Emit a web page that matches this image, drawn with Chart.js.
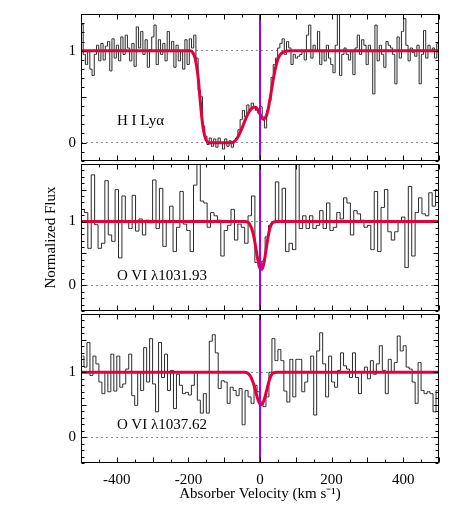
<!DOCTYPE html>
<html>
<head>
<meta charset="utf-8">
<script src="https://cdn.jsdelivr.net/npm/chart.js@4"></script>
<style>
  body { margin: 0; background: #fff; width: 463px; height: 515px; position: relative; overflow: hidden; font-family: 'Liberation Serif', 'DejaVu Serif', serif; }
  canvas { position: absolute; left: 0; }
  .lbl { position: absolute; left: 117px; font-size: 15px; line-height: 18px; color: #000; white-space: nowrap; }
</style>
</head>
<body>
<canvas id="p1" width="463" height="175" style="top:0px"></canvas>
<canvas id="p2" width="463" height="175" style="top:150px"></canvas>
<canvas id="p3" width="463" height="215" style="top:300px"></canvas>
<div class="lbl" style="top:111px">H I Lyα</div>
<div class="lbl" style="top:266px">O VI λ1031.93</div>
<div class="lbl" style="top:415px">O VI λ1037.62</div>
<script>
// velocity window and tick labels
const velRange = [-500, 500];
const xTickLabels = [-400, -200, 0, 200, 400];
const yTickLabels = [0, 1];
const markerVelocity = 0;

// H I Lya normalized flux (binned)
const lyaFlux = [
  1.29,0.96,0.85,0.99,0.80,0.73,0.96,1.06,0.89,1.08,
  0.90,1.05,1.10,0.78,1.13,0.92,1.06,0.89,1.15,0.96,
  1.17,1.03,0.89,1.08,0.83,1.26,1.03,1.21,0.96,1.12,
  0.82,1.01,1.15,1.28,0.85,1.12,0.96,1.08,0.89,1.21,
  0.99,1.10,0.82,1.06,0.89,0.99,0.80,1.12,0.85,1.13,
  1.03,1.17,0.92,0.57,0.50,0.18,0.07,-0.02,0.05,-0.04,
  0.04,-0.05,0.05,0.00,-0.07,0.04,-0.04,0.02,-0.05,0.02,
  0.05,0.14,0.25,0.35,0.28,0.41,0.35,0.43,0.39,0.35,
  0.32,
  0.39,0.28,0.16,0.35,0.46,0.71,0.85,0.92,1.03,1.08,
  1.13,0.96,1.10,1.03,0.85,0.96,0.92,0.94,0.96,0.99,
  0.90,1.17,1.28,0.92,1.06,0.99,1.21,0.85,0.99,0.89,
  1.06,0.92,0.85,0.76,1.06,1.40,0.73,0.96,1.03,0.96,
  0.90,0.99,0.74,1.03,1.17,0.96,1.12,1.06,0.85,1.06,
  0.99,0.53,1.28,0.89,1.06,0.96,0.82,1.10,1.06,1.03,
  0.96,0.64,1.15,0.92,1.21,1.35,1.06,0.89,1.03,0.98,
  0.94,1.06,0.64,0.96,1.22,0.92,1.06,0.99,1.03,0.92,
  1.08
];
// O VI 1031.93 normalized flux
const o1031Flux = [
  1.19,1.14,0.58,1.73,0.95,0.58,0.66,1.64,0.79,0.69,
  1.50,0.43,1.40,0.99,0.89,1.41,0.85,1.04,0.79,1.02,
  0.98,1.65,0.89,1.52,0.61,0.99,1.24,0.53,0.91,1.47,
  0.96,0.86,0.53,1.57,2.00,1.32,1.29,0.91,1.14,1.09,
  1.02,0.46,0.86,0.94,1.19,0.71,0.96,0.91,0.66,1.09,
  1.40,0.36,0.28,0.38,0.76,0.94,0.99,1.62,0.99,1.52,
  0.53,0.66,0.56,2.00,0.89,1.09,0.89,1.09,0.89,0.94,
  1.17,0.89,1.29,0.86,0.91,1.14,1.04,1.37,1.29,0.79,
  1.17,1.12,1.02,0.91,0.94,0.56,1.47,0.53,1.22,1.50,
  0.84,0.71,0.84,0.99,1.07,0.28,1.55,0.46,1.14,1.37,
  1.12,1.09,1.45,1.24,1.50
];
// O VI 1037.62 normalized flux
const o1037Flux = [
  1.25,1.08,1.46,0.95,1.25,1.13,0.85,0.67,1.00,0.70,
  1.28,0.71,1.25,0.77,0.82,1.05,1.28,0.64,0.49,1.00,
  0.72,1.38,0.85,1.52,0.82,0.39,1.46,0.92,1.28,0.72,
  1.03,0.44,0.97,0.80,0.67,0.69,0.65,0.80,1.00,0.57,
  0.37,0.67,0.37,1.48,1.58,1.30,0.75,0.87,0.85,0.52,
  0.77,0.72,0.64,0.75,0.19,0.72,0.62,0.52,0.80,0.70,
  0.54,0.47,0.62,1.00,1.52,1.18,1.35,1.18,0.71,0.54,
  1.20,0.62,1.20,1.20,0.70,0.85,1.00,1.25,0.34,1.33,
  1.61,1.13,0.62,1.25,0.85,0.77,1.03,1.30,1.10,1.05,
  0.92,1.30,0.92,0.67,1.00,1.08,0.90,1.18,0.97,1.13,
  1.41,1.03,0.67,1.20,1.00,1.15,1.56,1.33,1.41,1.08,
  1.05,0.85,0.52,1.15,0.72,0.67,0.70,0.67,0.39,0.72
];

// fitted profiles (velocity, flux)
const lyaFitV = [-500,-195,-188,-182,-177,-172,-168,-164,-160,-155,-150,-145,-140,-80,-72,-65,-58,-50,-42,-34,-26,-18,-12,-6,0,5,10,15,20,25,30,35,40,45,50,57,65,75,90,500];
const lyaFitF = [1,1,0.98,0.93,0.83,0.68,0.5,0.33,0.19,0.08,0.025,0.005,0,0,0.01,0.04,0.09,0.16,0.24,0.31,0.36,0.385,0.385,0.36,0.31,0.27,0.255,0.27,0.32,0.41,0.52,0.64,0.75,0.84,0.91,0.96,0.985,0.997,1,1];
const o1031FitV = [-500,-40,-33,-27,-21,-15,-10,-5,0,3,7,12,17,22,27,32,38,46,500];
const o1031FitF = [1,1,0.985,0.94,0.85,0.7,0.53,0.37,0.27,0.25,0.27,0.38,0.56,0.74,0.88,0.96,0.99,1,1];
const o1037FitV = [-500,-42,-35,-28,-21,-14,-7,0,3,7,13,19,25,31,37,45,500];
const o1037FitF = [1,1,0.99,0.95,0.87,0.75,0.6,0.51,0.5,0.52,0.6,0.73,0.86,0.95,0.99,1,1];

const serif = 'Liberation Serif';

function binned(flux) {
  const w = (velRange[1] - velRange[0]) / flux.length;
  return flux.map((f, i) => ({ x: velRange[0] + (i + 0.5) * w, y: f }));
}
function pairs(v, f) { return v.map((x, i) => ({ x, y: f[i] })); }

// frame with inward ticks on all four sides
const framePlugin = {
  id: 'frame',
  afterDatasetsDraw(chart) {
    const { ctx, chartArea: a, scales: { x, y } } = chart;
    const L = Math.round(a.left) + 0.5, R = Math.round(a.right) - 0.5;
    const T = Math.round(a.top) + 0.5, B = Math.round(a.bottom) - 0.5;
    ctx.save();
    ctx.strokeStyle = '#000';
    ctx.lineWidth = 1;
    ctx.beginPath();
    for (let v = -500; v <= 500; v += 50) {
      const px = Math.round(x.getPixelForValue(v)) + 0.5;
      const len = v % 100 === 0 ? 5 : 3;
      ctx.moveTo(px, B); ctx.lineTo(px, B - len);
      ctx.moveTo(px, T); ctx.lineTo(px, T + len);
    }
    const start = Math.ceil(y.min * 10), end = Math.floor(y.max * 10);
    for (let k = start; k <= end; k++) {
      const py = Math.round(y.getPixelForValue(k / 10)) + 0.5;
      const len = k % 5 === 0 ? 5 : 3;
      ctx.moveTo(L, py); ctx.lineTo(L + len, py);
      ctx.moveTo(R, py); ctx.lineTo(R - len, py);
    }
    ctx.stroke();
    ctx.strokeRect(L, T, R - L, B - T);
    ctx.restore();
  }
};

function makePanel(id, flux, fitV, fitF, yMin, yMax, extra) {
  const xScale = {
    type: 'linear', min: velRange[0], max: velRange[1],
    display: !!extra.showX,
    grid: { display: false, drawTicks: false },
    border: { display: false },
    afterBuildTicks: s => { s.ticks = xTickLabels.map(v => ({ value: v })); },
    afterFit: s => { if (extra.showX) s.height = 52; },
    ticks: { color: '#000', padding: 8, font: { family: serif, size: 15 } },
    title: {
      display: !!extra.showX, text: 'Absorber Velocity (km s⁻¹)', color: '#000',
      font: { family: serif, size: 15 }, padding: { top: 0, bottom: 12 }
    }
  };
  const yScale = {
    type: 'linear', min: yMin, max: yMax,
    afterBuildTicks: s => { s.ticks = yTickLabels.map(v => ({ value: v })); },
    afterFit: s => { s.width = 81; },
    grid: { color: '#8a8a8a', lineWidth: 1, drawTicks: false },
    border: { display: false, dash: [2, 3] },
    ticks: { color: '#000', padding: 5, font: { family: serif, size: 15 } },
    title: {
      display: !!extra.yTitle, text: 'Normalized Flux', color: '#000',
      font: { family: serif, size: 15 }, padding: { top: 42, bottom: 0 }
    }
  };
  return new Chart(document.getElementById(id), {
    type: 'line',
    data: {
      datasets: [
        {
          label: 'v = 0',
          data: [{ x: markerVelocity, y: yMin }, { x: markerVelocity, y: yMax }],
          borderColor: '#a800e0', borderWidth: 2, pointRadius: 0, order: 0
        },
        {
          label: 'fit',
          data: pairs(fitV, fitF),
          borderColor: '#e4003c', borderWidth: 3, pointRadius: 0,
          cubicInterpolationMode: 'monotone', order: 1
        },
        {
          label: 'flux',
          data: binned(flux),
          borderColor: '#2a2a2a', borderWidth: 1, pointRadius: 0,
          stepped: 'middle', order: 2
        }
      ]
    },
    options: {
      responsive: false,
      animation: false,
      devicePixelRatio: 1,
      layout: { padding: { top: 12, right: 24, bottom: extra.padBottom, left: 0 } },
      plugins: { legend: { display: false }, tooltip: { enabled: false } },
      scales: { x: xScale, y: yScale }
    },
    plugins: [framePlugin]
  });
}

makePanel('p1', lyaFlux, lyaFitV, lyaFitF, -0.2, 1.4, { padBottom: 13 });
makePanel('p2', o1031Flux, o1031FitV, o1031FitF, -0.4, 1.9, { padBottom: 13, yTitle: true });
makePanel('p3', o1037Flux, o1037FitV, o1037FitF, -0.4, 1.9, { padBottom: 0, showX: true });
</script>
</body>
</html>
